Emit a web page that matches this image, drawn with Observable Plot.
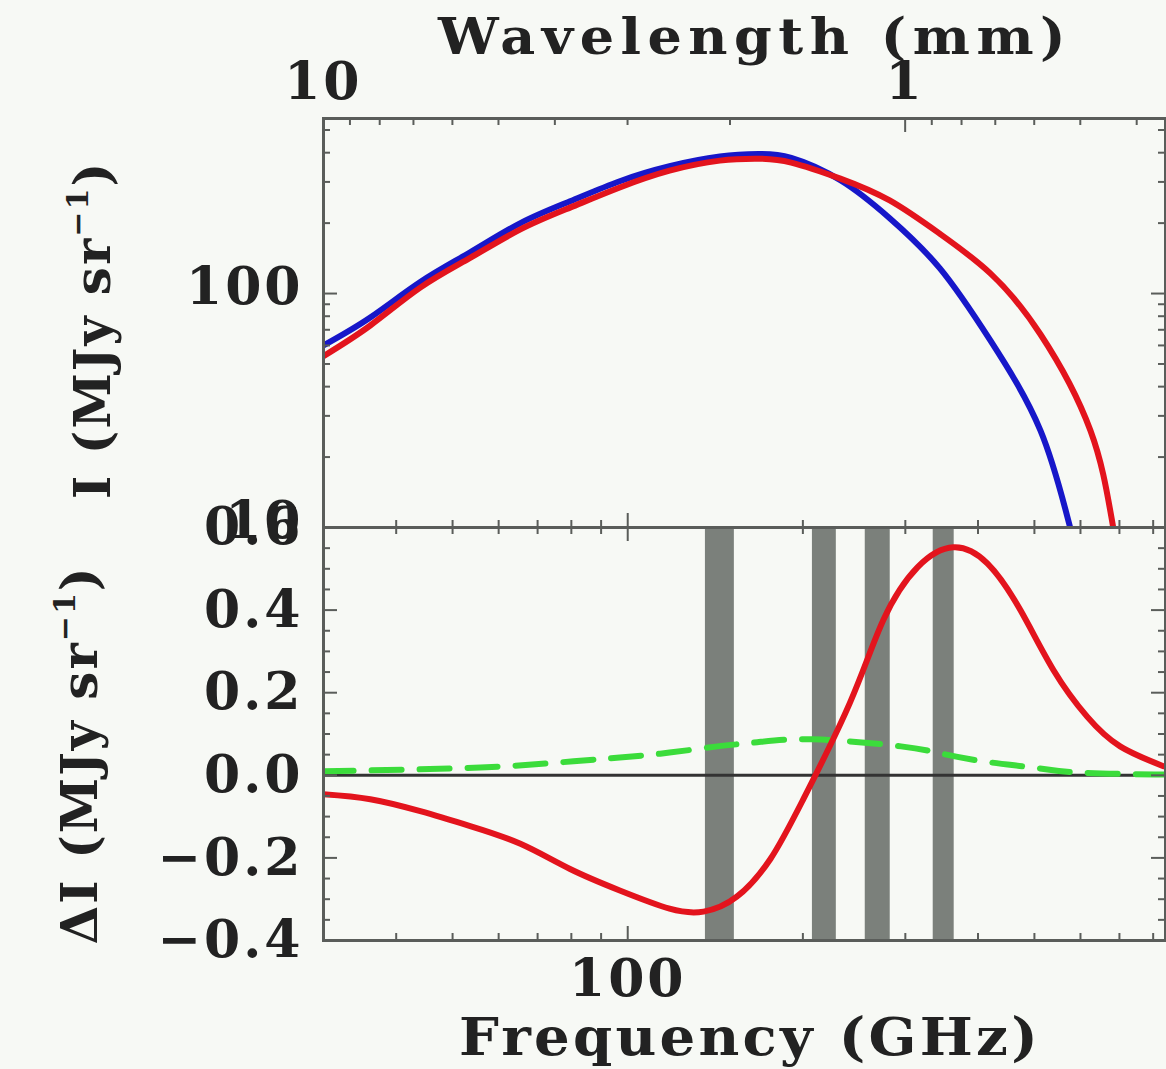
<!DOCTYPE html>
<html>
<head>
<meta charset="utf-8">
<script src="https://cdn.jsdelivr.net/npm/d3@7"></script>
<script src="https://cdn.jsdelivr.net/npm/@observablehq/plot@0.6"></script>
<style>
  html, body { margin: 0; padding: 0; background: #f7f9f5; }
  #chart { position: relative; width: 1166px; height: 1069px; overflow: hidden; background: #f7f9f5;
           font-family: "DejaVu Serif", serif; font-weight: bold; color: #222; }
  #chart svg { position: absolute; left: 0; }
  .lbl { position: absolute; white-space: nowrap; line-height: 1; }
  .title { transform: translateX(-50%) scaleX(1.08); }
  .ylab { transform: translate(-50%, -50%) rotate(-90deg); }
  .lbl sup { font-size: 60%; vertical-align: 0.75em; line-height: 0; }
</style>
</head>
<body>
<div id="chart"></div>
<script>
// ---------- data ----------
const C_MM_GHZ = 299.79;            // wavelength(mm) <-> frequency(GHz)

// top panel: intensity spectra (GHz, MJy/sr)
const blueFreq = [30, 36.1, 44, 53.6, 65.4, 79.6, 96.9, 118, 144, 168, 191, 232, 282, 344, 420, 512, 576, 625];
const blueI    = [60, 79, 112, 150, 200, 248, 302, 350, 385, 395, 380, 305, 210, 128, 63, 26, 10, 5];
const redFreq  = [30, 36.1, 44, 53.6, 65.4, 79.6, 96.9, 118, 144, 168, 191, 232, 282, 344, 420, 512, 624, 683, 740];
const redI     = [54, 73, 106, 142, 188, 233, 284, 335, 370, 377, 363, 310, 250, 180, 122, 67, 26, 10, 3.5];

// bottom panel: difference spectra (GHz, MJy/sr)
const dRedFreq = [30, 36.1, 44, 53.6, 65.4, 79.6, 96.9, 118, 135, 154, 176, 200, 241, 275, 315, 363, 415, 473, 539, 616, 702, 833];
const dRedI    = [-0.046, -0.058, -0.087, -0.123, -0.166, -0.227, -0.279, -0.323, -0.330, -0.294, -0.202, -0.060, 0.176, 0.376, 0.504, 0.552, 0.513, 0.40, 0.255, 0.142, 0.07, 0.022];
const dGreenFreq = [30, 55.8, 80.7, 96.9, 118, 142.6, 167, 207.7, 295, 352.9, 421.5, 496, 592.5, 806.6, 840];
const dGreenI    = [0.01, 0.019, 0.034, 0.043, 0.055, 0.07, 0.08, 0.087, 0.07, 0.05, 0.031, 0.019, 0.007, 0.002, 0.002];

// observing bands (GHz)
const bandLo = [136, 207.7, 256, 335];
const bandHi = [152.5, 228.3, 282.6, 364];

// ticks
const wlMajor = [10, 1];
const wlMinor = [9, 8, 7, 6, 5, 4, 3, 2, 0.9, 0.8, 0.7, 0.6, 0.5, 0.4];
const fMajor = [100];
const fMinor = [40, 50, 60, 70, 80, 90, 200, 300, 400, 500, 600, 700, 800];
const iMajor = [10, 100];
const iMinor = [20, 30, 40, 50, 60, 70, 80, 90, 200, 300, 400, 500];
const dMajor = [-0.4, -0.2, 0.0, 0.2, 0.4, 0.6];
const dMinor = [-0.35, -0.3, -0.25, -0.15, -0.1, -0.05, 0.05, 0.1, 0.15, 0.25, 0.3, 0.35, 0.45, 0.5, 0.55];

// ---------- styling ----------
const BLUE = "#1717c9", RED = "#e3141d", GREEN = "#3bdc3b", BAND = "#7b807b", AXIS = "#5a5d5a";
const W = 1166, ML = 323, MR = 1;
const FW = W - ML - MR;                  // frame width
const MAJ = 14, MIN = 7;                 // tick lengths (inward)
const fontStyle = {background: "transparent", overflow: "visible", fontFamily: "DejaVu Serif, serif",
                   fontSize: "52px", fontWeight: "bold", color: "#222", letterSpacing: "3px"};

const toRows = (xs, ys) => xs.map((x, i) => ({x, y: ys[i]}));

function tickMarksX(vals, acc, len, H, side) {
  return Plot.ruleX(vals, {x: acc, stroke: AXIS, strokeWidth: 2,
    [side === "top" ? "insetBottom" : "insetTop"]: H - len});
}
function tickMarksY(vals, len, side) {
  return Plot.ruleY(vals, {y: d => d, stroke: AXIS, strokeWidth: 2,
    [side === "left" ? "insetRight" : "insetLeft"]: FW - len});
}

// ---------- top panel ----------
const H1 = 560, MT1 = 118, MB1 = 33, FH1 = H1 - MT1 - MB1;
const topPlot = Plot.plot({
  width: W, height: H1, marginTop: MT1, marginBottom: MB1, marginLeft: ML, marginRight: MR,
  x: {type: "log", domain: [30, 840], axis: null},
  y: {type: "log", domain: [10, 560], axis: null},
  style: fontStyle,
  marks: [
    Plot.line(toRows(blueFreq, blueI), {x: "x", y: "y", stroke: BLUE, strokeWidth: 6, curve: "natural", clip: true}),
    Plot.line(toRows(redFreq, redI), {x: "x", y: "y", stroke: RED, strokeWidth: 6, curve: "natural", clip: true}),
    // wavelength ticks along the top
    tickMarksX(wlMajor, l => C_MM_GHZ / l, MAJ, FH1, "top"),
    tickMarksX(wlMinor, l => C_MM_GHZ / l, MIN, FH1, "top"),
    // frequency ticks along the bottom
    tickMarksX(fMajor, d => d, MAJ, FH1, "bottom"),
    tickMarksX(fMinor, d => d, MIN, FH1, "bottom"),
    // intensity ticks left & right
    tickMarksY(iMajor, MAJ, "left"), tickMarksY(iMinor, MIN, "left"),
    tickMarksY(iMajor, MAJ, "right"), tickMarksY(iMinor, MIN, "right"),
    Plot.frame({stroke: AXIS, strokeWidth: 3}),
    // labels
    Plot.text(wlMajor, {x: l => C_MM_GHZ / l, text: l => String(l), frameAnchor: "top", lineAnchor: "bottom", dy: -20}),
    Plot.text(iMajor, {y: d => d, text: d => String(d), frameAnchor: "left", textAnchor: "end", dx: -20, dy: -6})
  ]
});
topPlot.style.top = "0px";

// ---------- bottom panel ----------
const T2 = 470, H2 = 1069 - T2, MT2 = 527 - T2, MB2 = 1069 - 940, FH2 = H2 - MT2 - MB2;
const botPlot = Plot.plot({
  width: W, height: H2, marginTop: MT2, marginBottom: MB2, marginLeft: ML, marginRight: MR,
  x: {type: "log", domain: [30, 840], axis: null},
  y: {domain: [-0.4, 0.6], axis: null},
  style: fontStyle,
  marks: [
    Plot.rect(bandLo.map((lo, i) => ({lo, hi: bandHi[i]})), {x1: "lo", x2: "hi", fill: BAND}),
    Plot.ruleY([0], {stroke: "#333", strokeWidth: 3}),
    Plot.line(toRows(dGreenFreq, dGreenI), {x: "x", y: "y", stroke: GREEN, strokeWidth: 6, strokeDasharray: "30,18", curve: "natural", clip: true}),
    Plot.line(toRows(dRedFreq, dRedI), {x: "x", y: "y", stroke: RED, strokeWidth: 6, curve: "natural", clip: true}),
    tickMarksX(fMajor, d => d, MAJ, FH2, "top"),
    tickMarksX(fMinor, d => d, MIN, FH2, "top"),
    tickMarksX(fMajor, d => d, MAJ, FH2, "bottom"),
    tickMarksX(fMinor, d => d, MIN, FH2, "bottom"),
    tickMarksY(dMajor, MAJ, "left"), tickMarksY(dMinor, MIN, "left"),
    tickMarksY(dMajor, MAJ, "right"), tickMarksY(dMinor, MIN, "right"),
    Plot.frame({stroke: AXIS, strokeWidth: 3}),
    Plot.text(dMajor, {y: d => d, text: d => d3.format(".1f")(d), frameAnchor: "left", textAnchor: "end", dx: -20}),
    Plot.text(fMajor, {x: d => d, text: d => String(d), frameAnchor: "bottom", lineAnchor: "top", dy: 19})
  ]
});
botPlot.style.top = T2 + "px";

const chart = document.getElementById("chart");
chart.append(topPlot, botPlot);

// titles and axis labels
chart.insertAdjacentHTML("beforeend", `
  <div class="lbl title" style="left:755px; top:12px; font-size:50px; letter-spacing:6px;">Wavelength (mm)</div>
  <div class="lbl title" style="left:750px; top:1011px; font-size:52px; letter-spacing:3px;">Frequency (GHz)</div>
  <div class="lbl ylab" style="left:93px; top:330px; font-size:50px; letter-spacing:2px;">I (MJy sr<sup>−1</sup>)</div>
  <div class="lbl ylab" style="left:80px; top:755px; font-size:50px; letter-spacing:2px;">ΔI (MJy sr<sup>−1</sup>)</div>
`);
</script>
</body>
</html>
